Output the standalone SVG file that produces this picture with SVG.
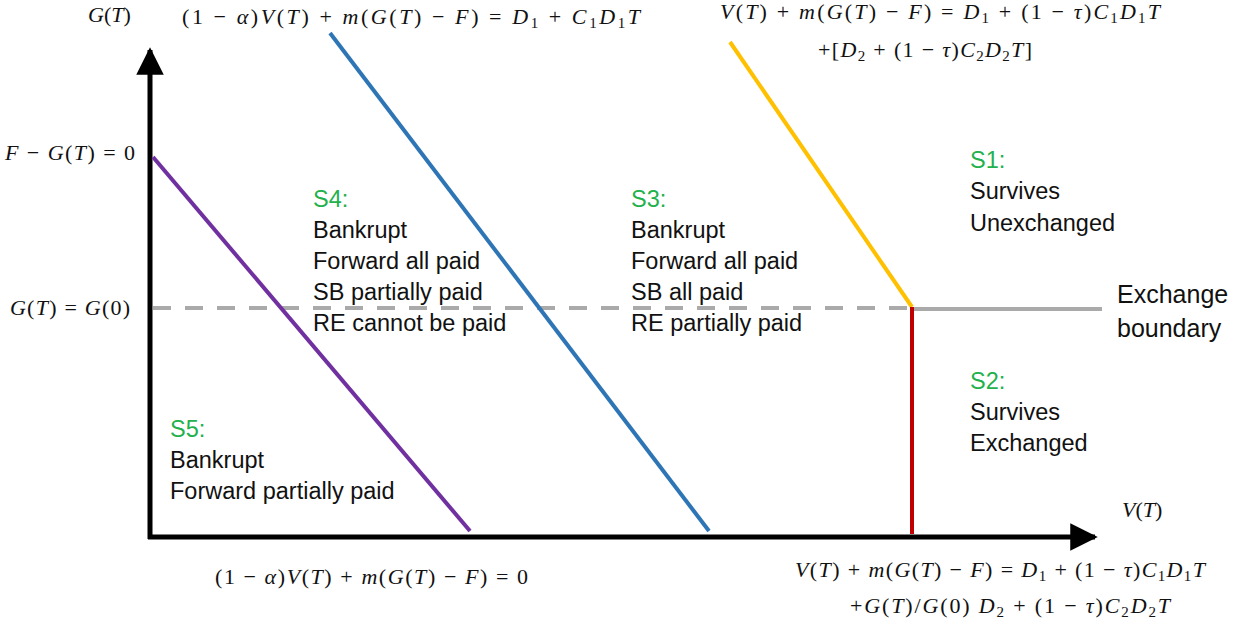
<svg xmlns="http://www.w3.org/2000/svg" width="1241" height="630" viewBox="0 0 1241 630">
<style>
.m{font-family:"Liberation Serif","DejaVu Serif",serif;font-size:22px;fill:#111}
.i{font-style:italic}
.s{font-size:15px}
.t{font-family:"Liberation Sans","Open Sans",sans-serif;font-size:23.5px;fill:#111}
.g{fill:#22b14c}
.b{font-family:"Liberation Sans","Open Sans",sans-serif;font-size:25px;fill:#111}
</style>
<defs>
<marker id="ah" viewBox="0 0 10 10" refX="9" refY="5" markerWidth="5.5" markerHeight="5.5" markerUnits="strokeWidth" orient="auto">
<path d="M0,0 L10,5 L0,10 z" fill="#000"/>
</marker>
</defs>
<rect width="1241" height="630" fill="#fff"/>
<g id="axes">
<line x1="150" y1="539" x2="150" y2="50" stroke="#000" stroke-width="5" marker-end="url(#ah)"/>
<line x1="148" y1="537" x2="1095" y2="537" stroke="#000" stroke-width="5" marker-end="url(#ah)"/>
</g>
<g id="connectors" fill="none" stroke-width="4">
<line x1="153" y1="308" x2="912" y2="308" stroke="#aaa" stroke-dasharray="18,14"/>
<line x1="912" y1="309" x2="1102" y2="309" stroke="#aaa"/>
<line x1="153" y1="157" x2="470" y2="531" stroke="#7030a0"/>
<line x1="330" y1="33" x2="709" y2="531" stroke="#2e75b6"/>
<line x1="730" y1="42" x2="912" y2="307" stroke="#ffc000"/>
<line x1="912" y1="307" x2="912" y2="534" stroke="#c00000"/>
</g>
<g id="axis-labels">
<text class="m" x="88" y="22"><tspan class="i">G</tspan>(<tspan class="i">T</tspan>)</text>
<text class="m" x="1122" y="517"><tspan class="i">V</tspan>(<tspan class="i">T</tspan>)</text>
<text class="m" x="5" y="160" textLength="130" lengthAdjust="spacing"><tspan class="i">F</tspan> − <tspan class="i">G</tspan>(<tspan class="i">T</tspan>) = 0</text>
<text class="m" x="10" y="315" textLength="120" lengthAdjust="spacing"><tspan class="i">G</tspan>(<tspan class="i">T</tspan>) = <tspan class="i">G</tspan>(0)</text>
</g>
<g id="eq-blue">
<text class="m" x="182" y="24" textLength="458" lengthAdjust="spacing">(1 − <tspan class="i">α</tspan>)<tspan class="i">V</tspan>(<tspan class="i">T</tspan>) + <tspan class="i">m</tspan>(<tspan class="i">G</tspan>(<tspan class="i">T</tspan>) − <tspan class="i">F</tspan>) = <tspan class="i">D</tspan><tspan class="s" dy="4">1</tspan><tspan dy="-4"> + </tspan><tspan class="i">C</tspan><tspan class="s" dy="4">1</tspan><tspan class="i" dy="-4">D</tspan><tspan class="s" dy="4">1</tspan><tspan class="i" dy="-4">T</tspan></text>
</g>
<g id="eq-yellow">
<text class="m" x="720" y="19" textLength="440" lengthAdjust="spacing"><tspan class="i">V</tspan>(<tspan class="i">T</tspan>) + <tspan class="i">m</tspan>(<tspan class="i">G</tspan>(<tspan class="i">T</tspan>) − <tspan class="i">F</tspan>) = <tspan class="i">D</tspan><tspan class="s" dy="4">1</tspan><tspan dy="-4"> + (1 − </tspan><tspan class="i">τ</tspan>)<tspan class="i">C</tspan><tspan class="s" dy="4">1</tspan><tspan class="i" dy="-4">D</tspan><tspan class="s" dy="4">1</tspan><tspan class="i" dy="-4">T</tspan></text>
<text class="m" x="818" y="57" textLength="214" lengthAdjust="spacing">+[<tspan class="i">D</tspan><tspan class="s" dy="4">2</tspan><tspan dy="-4"> + (1 − </tspan><tspan class="i">τ</tspan>)<tspan class="i">C</tspan><tspan class="s" dy="4">2</tspan><tspan class="i" dy="-4">D</tspan><tspan class="s" dy="4">2</tspan><tspan class="i" dy="-4">T</tspan>]</text>
</g>
<g id="eq-purple">
<text class="m" x="215" y="584" textLength="313" lengthAdjust="spacing">(1 − <tspan class="i">α</tspan>)<tspan class="i">V</tspan>(<tspan class="i">T</tspan>) + <tspan class="i">m</tspan>(<tspan class="i">G</tspan>(<tspan class="i">T</tspan>) − <tspan class="i">F</tspan>) = 0</text>
</g>
<g id="eq-red">
<text class="m" x="795" y="577" textLength="410" lengthAdjust="spacing"><tspan class="i">V</tspan>(<tspan class="i">T</tspan>) + <tspan class="i">m</tspan>(<tspan class="i">G</tspan>(<tspan class="i">T</tspan>) − <tspan class="i">F</tspan>) = <tspan class="i">D</tspan><tspan class="s" dy="4">1</tspan><tspan dy="-4"> + (1 − </tspan><tspan class="i">τ</tspan>)<tspan class="i">C</tspan><tspan class="s" dy="4">1</tspan><tspan class="i" dy="-4">D</tspan><tspan class="s" dy="4">1</tspan><tspan class="i" dy="-4">T</tspan></text>
<text class="m" x="850" y="613" textLength="320" lengthAdjust="spacing">+<tspan class="i">G</tspan>(<tspan class="i">T</tspan>)/<tspan class="i">G</tspan>(0) <tspan class="i">D</tspan><tspan class="s" dy="4">2</tspan><tspan dy="-4"> + (1 − </tspan><tspan class="i">τ</tspan>)<tspan class="i">C</tspan><tspan class="s" dy="4">2</tspan><tspan class="i" dy="-4">D</tspan><tspan class="s" dy="4">2</tspan><tspan class="i" dy="-4">T</tspan></text>
</g>
<g id="S1">
<text class="t g" x="970" y="168">S1:</text>
<text class="t" x="970" y="199">Survives</text>
<text class="t" x="970" y="231">Unexchanged</text>
</g>
<g id="S2">
<text class="t g" x="970" y="389">S2:</text>
<text class="t" x="970" y="420">Survives</text>
<text class="t" x="970" y="451">Exchanged</text>
</g>
<g id="S3">
<text class="t g" x="631" y="207">S3:</text>
<text class="t" x="631" y="238">Bankrupt</text>
<text class="t" x="631" y="269">Forward all paid</text>
<text class="t" x="631" y="300">SB all paid</text>
<text class="t" x="631" y="331">RE partially paid</text>
</g>
<g id="S4">
<text class="t g" x="313" y="207">S4:</text>
<text class="t" x="313" y="238">Bankrupt</text>
<text class="t" x="313" y="269">Forward all paid</text>
<text class="t" x="313" y="300">SB partially paid</text>
<text class="t" x="313" y="331">RE cannot be paid</text>
</g>
<g id="S5">
<text class="t g" x="170" y="437">S5:</text>
<text class="t" x="170" y="468">Bankrupt</text>
<text class="t" x="170" y="499">Forward partially paid</text>
</g>
<g id="exchange-boundary">
<text class="b" x="1117" y="303">Exchange</text>
<text class="b" x="1117" y="337">boundary</text>
</g>
</svg>
